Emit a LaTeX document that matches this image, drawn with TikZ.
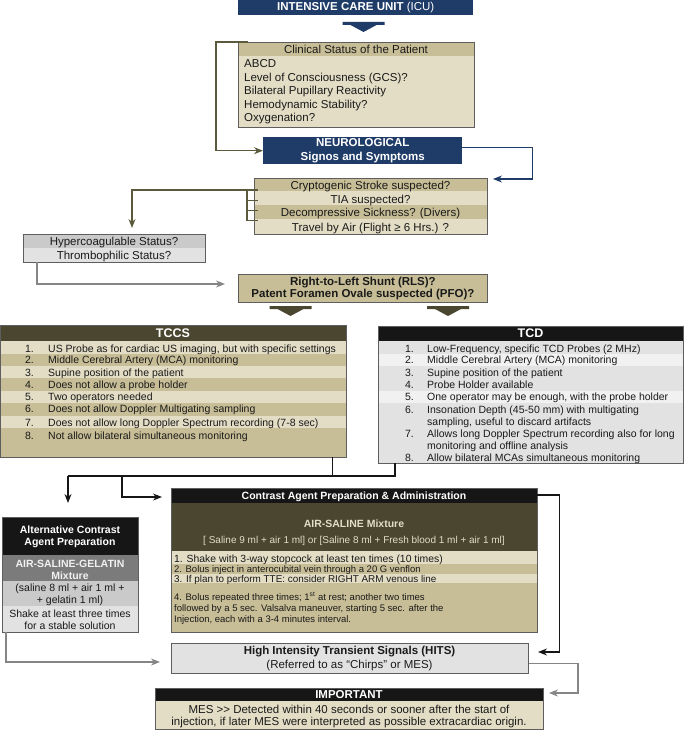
\documentclass[tikz,border=0pt]{standalone}
\usepackage{fontspec}
\setmainfont{Liberation Sans}
\usetikzlibrary{arrows.meta,calc}
\definecolor{ink}{HTML}{1A1A1A}
\definecolor{navy}{HTML}{1F3B68}
\definecolor{tanDk}{HTML}{C7BD96}
\definecolor{tanLt}{HTML}{E3DDC5}
\definecolor{olive}{HTML}{4B4630}
\definecolor{moss}{HTML}{5C5A3D}
\definecolor{coal}{HTML}{161616}
\definecolor{slate}{HTML}{7B7B7B}
\definecolor{greyMd}{HTML}{CACACA}
\definecolor{greyLt}{HTML}{E2E2E2}
\definecolor{greyPl}{HTML}{F1F1F1}
\definecolor{wire}{HTML}{858585}
\definecolor{edge}{HTML}{5E5E5E}
\tikzset{
  every node/.style={inner sep=0pt,text=ink,font=\fontsize{11.5}{13.5}\selectfont},
  panel/.style={anchor=north west,rectangle},
  rim/.style={draw=edge,line width=.9pt},
  item/.style={font=\fontsize{10.5}{12}\selectfont},
  fine/.style={font=\fontsize{9.5}{11}\selectfont},
  bold/.style={font=\fontsize{11.5}{12.5}\selectfont\bfseries},
  captxt/.style={font=\fontsize{10.5}{11.7}\selectfont\bfseries,text=white},
  flow/.style={-{Stealth[length=9pt,width=7pt]},line width=1.3pt},
  tie/.style={line width=1.3pt},
}
\newcommand{\dropmark}[2]{%
  \fill[#1,shift={(#2)}] (-21,0) -- (21,0) -- (21,3) -- (13,3) -- (0,10)
    -- (-13,3) -- (-21,3) -- cycle;}

\begin{document}
\begin{tikzpicture}[x=1pt,y=-1pt]           % y down, one unit per pixel
\path[use as bounding box] (0,0) rectangle (685,730);

% Entry: ICU, then the clinical check list
\node[panel,fill=navy,text=white,minimum width=235,minimum height=15] (icu) at (238,0)
     {\textbf{INTENSIVE CARE UNIT} (ICU)};
\coordinate (dropA) at (363.5,22);
\dropmark{navy}{dropA}

\node[panel,fill=tanLt,minimum width=236,minimum height=85] (clin) at (238,42) {};
\fill[tanDk] (238,42) rectangle (474,56);
\node[anchor=base] (clin-0) at (356,53.1) {Clinical Status of the Patient};
\foreach \k/\yy/\txt in {1/63.3/ABCD, 2/77.3/{Level of Consciousness (GCS)?},
    3/90.7/Bilateral Pupillary Reactivity, 4/104/Hemodynamic Stability?, 5/117.3/Oxygenation?}
  \node[anchor=base west] (clin-\k) at (244,\yy+4.1) {\txt};
\draw[rim] (clin.north west) rectangle (clin.south east);

\node[panel,fill=navy,text=white,minimum width=199,minimum height=27,align=center,
      font=\fontsize{11.5}{13.5}\selectfont\bfseries] (neuro) at (263,137)
     {NEUROLOGICAL\\Signos and Symptoms};
\draw[flow,moss] ([xshift=10pt]clin.north west) -- ++(-32,0) |- (neuro.west);

% What is suspected: four rows, bracketed on the left
\node[panel,fill=tanLt,minimum width=233,minimum height=56] (crit) at (254,178) {};
\foreach \ya/\yb in {178/191,205/218.5} \fill[tanDk] (254,\ya) rectangle (487,\yb);
\foreach \k/\yy/\txt in {1/185/Cryptogenic Stroke suspected?, 2/199/TIA suspected?,
    3/212.7/{Decompressive Sickness? (Divers)}, 4/227.3/{Travel by Air (Flight ≥ 6 Hrs.) ?}}
  \node[anchor=base] (crit-\k) at (370.5,\yy+4.1) {\txt};
\draw[rim] (crit.north west) rectangle (crit.south east);
\coordinate (critIn) at (493,179);
\draw[flow,navy] ([yshift=3pt]neuro.east) -- ++(70,0) |- (critIn);

\coordinate (fork) at (247,190);
\draw[tie,moss] (fork) -- (247,220.7);
\foreach \yy in {190,200.7,210.7,220.7} \draw[tie,moss] (247,\yy) -- (258,\yy);
\coordinate (hypIn) at (132,228);
\draw[flow,moss] (fork) -| (hypIn);

\node[panel,fill=greyLt,minimum width=182,minimum height=28] (hyp) at (23,234) {};
\fill[greyMd] (23,234) rectangle (205,248);
\node[anchor=base] (hyp-1) at (114,245.8) {Hypercoagulable Status?};
\node[anchor=base] (hyp-2) at (114,259.4) {Thrombophilic Status?};
\draw[rim] (hyp.north west) rectangle (hyp.south east);

% Shunt question, split into the two probes
\node[panel,rim,fill=tanDk,minimum width=249,minimum height=28,align=center,bold] (rls)
     at (238,274) {Right-to-Left Shunt (RLS)?\\Patent Foramen Ovale suspected (PFO)?};
\coordinate (rlsIn) at (225,284);
\draw[flow,wire] ([xshift=14pt]hyp.south west) |- (rlsIn);
\coordinate (dropL) at (290.5,306);
\coordinate (dropR) at (448,306);
\dropmark{olive}{dropL}
\dropmark{olive}{dropR}

\node[panel,fill=tanLt,minimum width=345.5,minimum height=132] (tccs) at (.5,325) {};
\fill[olive] (.5,325) rectangle (346,341);
\foreach \ya/\yb in {354/366,378/391,403/416,428/457} \fill[tanDk] (.5,\ya) rectangle (346,\yb);
\node[font=\fontsize{12.5}{14}\selectfont\bfseries,text=white] (tccs-0) at (173,333) {TCCS};
\foreach \k/\yy/\txt in {1/348.3/{US Probe as for cardiac US imaging, but with specific settings},
    2/360/{Middle Cerebral Artery (MCA) monitoring}, 3/372.7/Supine position of the patient,
    4/385/Does not allow a probe holder, 5/396.7/Two operators needed,
    6/409/Does not allow Doppler Multigating sampling,
    7/422.3/{Does not allow long Doppler Spectrum recording (7-8 sec)},
    8/436/Not allow bilateral simultaneous monitoring}{
  \node[item,anchor=base east] (tccsN-\k) at (34,\yy+3.8) {\k.};
  \node[item,anchor=base west] (tccs-\k) at (48,\yy+3.8) {\txt};}
\draw[rim] (tccs.north west) rectangle (tccs.south east);

\node[panel,fill=greyLt,minimum width=305,minimum height=137] (tcd) at (378,326) {};
\fill[coal] (378,326) rectangle (683,341);
\foreach \ya/\yb in {354/366,391/403} \fill[greyPl] (378,\ya) rectangle (683,\yb);
\node[font=\fontsize{12.5}{14}\selectfont\bfseries,text=white] (tcd-0) at (530.5,333.5) {TCD};
\foreach \k/\yy/\txt in {1/348.3/{Low-Frequency, specific TCD Probes (2 MHz)},
    2/360/{Middle Cerebral Artery (MCA) monitoring}, 3/372.7/Supine position of the patient,
    4/385/Probe Holder available, 5/396.7/{One operator may be enough, with the probe holder},
    6/409.3/{Insonation Depth (45-50 mm) with multigating},
    7/434/Allows long Doppler Spectrum recording also for long,
    8/457.3/Allow bilateral MCAs simultaneous monitoring}{
  \node[item,anchor=base east] (tcdN-\k) at (414,\yy+3.8) {\k.};
  \node[item,anchor=base west] (tcd-\k) at (427,\yy+3.8) {\txt};}
\node[item,anchor=base west] (tcd-6b) at (427,421.7+3.8) {sampling, useful to discard artifacts};
\node[item,anchor=base west] (tcd-7b) at (427,445.5+3.8) {monitoring and offline analysis};
\draw[rim] (tcd.north west) rectangle (tcd.south east);

% Both probes lead to the contrast preparation (or its alternative)
\coordinate (split) at (68,476);
\coordinate (branch) at (122,476);
\coordinate (altIn) at (68,503);
\coordinate (ctrIn) at (162,497);
\draw[tie,coal] ([xshift=-14pt]tccs.south east) |- (split);
\draw[tie,coal] ([xshift=17pt]tcd.south west) |- (split);
\draw[flow,coal] (split) -- (altIn);
\draw[flow,coal] (branch) |- (ctrIn);

\node[panel,fill=tanDk,minimum width=366,minimum height=144] (ctr) at (171,488) {};
\fill[coal] (171,488) rectangle (537,503);
\fill[olive] (171,503) rectangle (537,551);
\foreach \ya/\yb in {551/563.5,574/583} \fill[tanLt] (171,\ya) rectangle (537,\yb);
\node[font=\fontsize{10.5}{12}\selectfont\bfseries,text=white,anchor=base] (ctr-0)
     at (354,499.2) {Contrast Agent Preparation \& Administration};
\node[font=\fontsize{10.5}{12}\selectfont\bfseries,text=tanLt,anchor=base] (ctr-mix)
     at (354,527.1) {AIR-SALINE Mixture};
\node[font=\fontsize{10}{12}\selectfont,text=tanLt,anchor=base] (ctr-dose) at (354,543.6)
     {[ Saline 9 ml + air 1 ml] or [Saline 8 ml + Fresh blood 1 ml + air 1 ml]};
\node[fine,font=\fontsize{10.4}{12}\selectfont,anchor=base west] (ctr-1) at (174,562.8)
     {1. Shake with 3-way stopcock at least ten times (10 times)};
\node[fine,anchor=base west] (ctr-2) at (174,572.7)
     {2. Bolus inject in anterocubital vein through a 20 G venflon};
\node[fine,font=\fontsize{9.9}{11}\selectfont,anchor=base west] (ctr-3) at (174,582.1)
     {3. If plan to perform TTE: consider RIGHT ARM venous line};
\foreach \k/\yy/\txt in {4/597.3/{4. Bolus repeated three times; 1\textsuperscript{st} at rest; another two times},
    5/608.3/{followed by a 5 sec. Valsalva maneuver, starting 5 sec. after the},
    6/618.7/{Injection, each with a 3-4 minutes interval.}}
  \node[fine,anchor=base west] (ctr-\k) at (174,\yy+3.4) {\txt};
\draw[rim] (ctr.north west) rectangle (ctr.south east);

\node[panel,fill=greyLt,minimum width=136,minimum height=115] (alt) at (2,517) {};
\fill[coal] (2,517) rectangle (138,555);
\fill[slate] (2,555) rectangle (138,581);
\fill[greyMd] (2,581) rectangle (138,606);
\foreach \k/\yy/\txt in {1/530/Alternative Contrast, 2/541.7/Agent Preparation}
  \node[captxt,anchor=base] (alt-\k) at (70,\yy+3.8) {\txt};
\foreach \k/\yy/\txt in {3/563.3/AIR-SALINE-GELATIN, 4/575.5/Mixture}
  \node[captxt,text=greyPl,anchor=base] (alt-\k) at (70,\yy+3.8) {\txt};
\foreach \k/\yy/\txt in {5/587.7/{(saline 8 ml + air 1 ml +}, 6/599.3/{+ gelatin 1 ml)},
    7/614/Shake at least three times, 8/625.7/for a stable solution}
  \node[item,anchor=base] (alt-\k) at (70,\yy+3.8) {\txt};
\draw[rim] (alt.north west) rectangle (alt.south east);

% Outcome: the signals, and the timing note
\node[panel,rim,fill=greyLt,minimum width=357,minimum height=30] (hits) at (171,643) {};
\node[font=\fontsize{11.5}{13}\selectfont\bfseries,anchor=base] (hits-1) at (349.5,654.7)
     {High Intensity Transient Signals (HITS)};
\node[anchor=base] (hits-2) at (349.5,668.8) {(Referred to as ``Chirps'' or MES)};
\coordinate (hitsL) at (160,662);
\coordinate (hitsIn) at (538,652);
\draw[flow,wire] ([xshift=4pt]alt.south west) |- (hitsL);
\draw[flow,coal] ([yshift=-7pt]ctr.north east) -- ++(22,0) |- (hitsIn);

\node[panel,fill=tanLt,minimum width=388,minimum height=41] (imp) at (155,688) {};
\fill[coal] (155,688) rectangle (543,701);
\node[font=\fontsize{11.5}{13}\selectfont\bfseries,text=white] (imp-0) at (349,694.7) {IMPORTANT};
\node[anchor=base] (imp-1) at (349,713.1)
     {MES \textgreater\kern0pt\textgreater{} Detected within 40 seconds or sooner after the start of};
\node[anchor=base] (imp-2) at (349,725.8)
     {injection, if later MES were interpreted as possible extracardiac origin.};
\draw[rim] (imp.north west) rectangle (imp.south east);
\coordinate (impIn) at (549,693);
\draw[flow,wire] ([yshift=-5pt]hits.east) -- ++(49,0) |- (impIn);

\end{tikzpicture}
\end{document}
